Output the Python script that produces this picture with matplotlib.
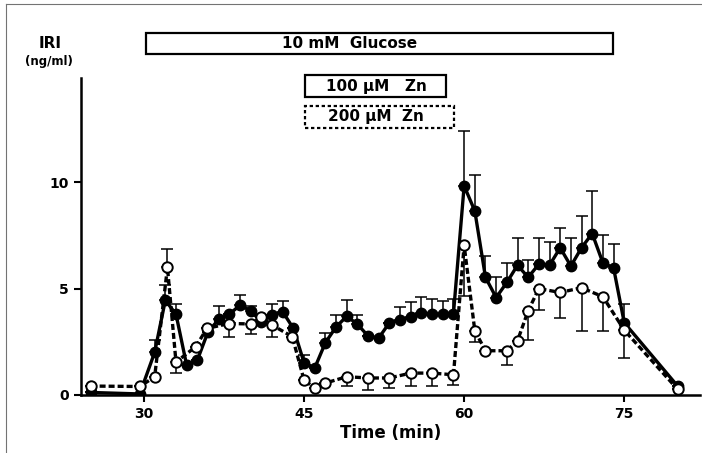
import numpy as np
import matplotlib.pyplot as plt
from matplotlib.patches import Rectangle
from matplotlib.lines import Line2D

plt.rcParams['font.family'] = ['DejaVu Sans']
plt.rcParams['font.weight'] = 'bold'

# 100 uM Zn (filled circles, solid line)
t_zn100 = [25, 29.6, 31, 32, 33, 34, 35, 36, 37, 38, 39, 40, 41, 42, 43, 44, 45, 46, 47, 48,
           49, 50, 51, 52, 53, 54, 55, 56, 57, 58, 59, 60, 61, 62, 63, 64, 65, 66, 67, 68,
           69, 70, 71, 72, 73, 74, 75, 80]
iri_zn100 = [0.12, 0.05, 2.0, 4.45, 3.8, 1.4, 1.64, 2.97, 3.55, 3.8, 4.22, 3.96, 3.44, 3.76,
             3.91, 3.13, 1.52, 1.27, 2.46, 3.2, 3.7, 3.33, 2.77, 2.68, 3.4, 3.52, 3.67, 3.86,
             3.8, 3.8, 3.83, 9.83, 8.65, 5.53, 4.58, 5.29, 6.1, 5.53, 6.15, 6.1, 6.92, 6.06,
             6.92, 7.59, 6.21, 5.98, 3.4, 0.42]
# upper end of the error bar (None = no bar)
top_zn100 = [None, None, 2.6, 5.15, 4.3, None, None, None, 4.17, None, 4.7, 4.2, None, 4.28,
             4.41, None, 1.9, None, 2.9, 3.75, 4.45, 3.75, None, None, None, 4.15, 4.38, 4.6,
             4.53, 4.43, 4.5, 12.4, 10.36, 6.53, 5.56, 6.21, 7.36, 6.34, 7.36, 7.2, 7.85, 7.36,
             8.42, 9.59, 7.54, 7.12, 4.3, None]

# 200 uM Zn (open circles, dashed line)
t_zn200 = [25, 29.6, 31, 32.2, 33, 34.85, 35.9, 38, 40, 41, 42, 43.9, 45, 46, 47, 49, 51, 53,
           55, 57, 59, 60, 61, 62, 64, 65, 66, 67, 69, 71, 73, 75, 80]
iri_zn200 = [0.42, 0.4, 0.85, 6.0, 1.55, 2.27, 3.13, 3.36, 3.34, 3.67, 3.29, 2.74, 0.7, 0.33,
             0.56, 0.86, 0.8, 0.8, 1.03, 1.03, 0.95, 7.04, 3.02, 2.08, 2.08, 2.55, 3.96, 5.0,
             4.82, 5.04, 4.62, 3.05, 0.27]
# lower end of the error bar (None = no bar), peak at 32 has its bar upwards
low_zn200 = [None, None, None, None, 1.05, None, None, 2.74, 2.85, None, 2.74, None, None, None,
             None, 0.4, 0.23, 0.33, 0.42, 0.42, 0.47, 4.66, 2.5, None, 1.41, None, 2.58, 4.0,
             3.6, 3.02, 3.02, 1.72, None]
top_zn200 = [None, None, None, 6.85] + [None] * 29


def bars(vals, ends):
    v = np.array(vals, dtype=float)
    e = np.array([np.nan if x is None else x for x in ends], dtype=float)
    return np.where(np.isnan(e), 0, np.abs(e - v))


W, H = 702, 453
fig = plt.figure(figsize=(W / 100, H / 100), dpi=100)
ax = fig.add_axes([81 / W, 1 - 395 / H, (700 - 81) / W, (395 - 78) / H])


def px(x, y):
    return x / W, 1 - y / H


# filled series
up1 = bars(iri_zn100, top_zn100)
ax.errorbar(t_zn100, iri_zn100, yerr=[np.zeros_like(up1), up1], fmt='none',
            ecolor='black', elinewidth=1.1, capsize=4, capthick=1.1, zorder=2)
ax.plot(t_zn100, iri_zn100, color='black', lw=2.4, marker='o', ms=7.5,
        mfc='black', mec='black', zorder=3)

# open series
dn2 = bars(iri_zn200, low_zn200)
up2 = bars(iri_zn200, top_zn200)
ax.errorbar(t_zn200, iri_zn200, yerr=[dn2, up2], fmt='none',
            ecolor='black', elinewidth=1.1, capsize=4, capthick=1.1, zorder=4)
ax.plot(t_zn200, iri_zn200, color='black', lw=2.4, ls=(0, (1.8, 0.9)), marker='o', ms=7.5,
        mfc='white', mec='black', mew=1.4, zorder=5)

ax.set_xlim(24.1, 82.1)
ax.set_ylim(0, 14.9)
ax.set_xticks([30, 45, 60, 75])
ax.set_yticks([0, 5, 10])
ax.spines['top'].set_visible(False)
ax.spines['right'].set_visible(False)
for s in ('left', 'bottom'):
    ax.spines[s].set_linewidth(1.8)
ax.tick_params(direction='out', length=5, width=1.5, labelsize=10, pad=4)
for lab in ax.get_xticklabels() + ax.get_yticklabels():
    lab.set_fontweight('bold')
ax.set_xlabel('Time (min)', fontsize=12, fontweight='bold', labelpad=2)

fig.text(*px(50, 43), 'IRI', fontsize=11, fontweight='bold', ha='center', va='center')
fig.text(*px(49, 62), '(ng/ml)', fontsize=8.5, fontweight='bold', ha='center', va='center')


# treatment boxes
def box(x0, y0, x1, y1, ls='-'):
    fx0, fy1 = px(x0, y0)
    fx1, fy0 = px(x1, y1)
    fig.add_artist(Rectangle((fx0, fy0), fx1 - fx0, fy1 - fy0, transform=fig.transFigure,
                             fill=False, ec='black', lw=1.6, ls=ls))


box(146, 33, 613, 54)
fig.text(*px(350, 43), '10 mM  Glucose', fontsize=11, fontweight='bold', ha='center', va='center')
box(305, 75, 446, 97)
fig.text(*px(376, 86), '100 \u03bcM   Zn', fontsize=11, fontweight='bold', ha='center', va='center')
box(305, 106, 454, 128, ls=(0, (1.5, 1.2)))
fig.text(*px(376, 117), '200 \u03bcM  Zn', fontsize=11, fontweight='bold', ha='center', va='center')

# page frame edges
fig.add_artist(Line2D([6 / W, 6 / W], [0, 1 - 4 / H], transform=fig.transFigure, color='0.45', lw=0.8))
fig.add_artist(Line2D([6 / W, 1], [1 - 4 / H, 1 - 4 / H], transform=fig.transFigure, color='0.45', lw=0.8))

fig.savefig('out.png', dpi=100)
